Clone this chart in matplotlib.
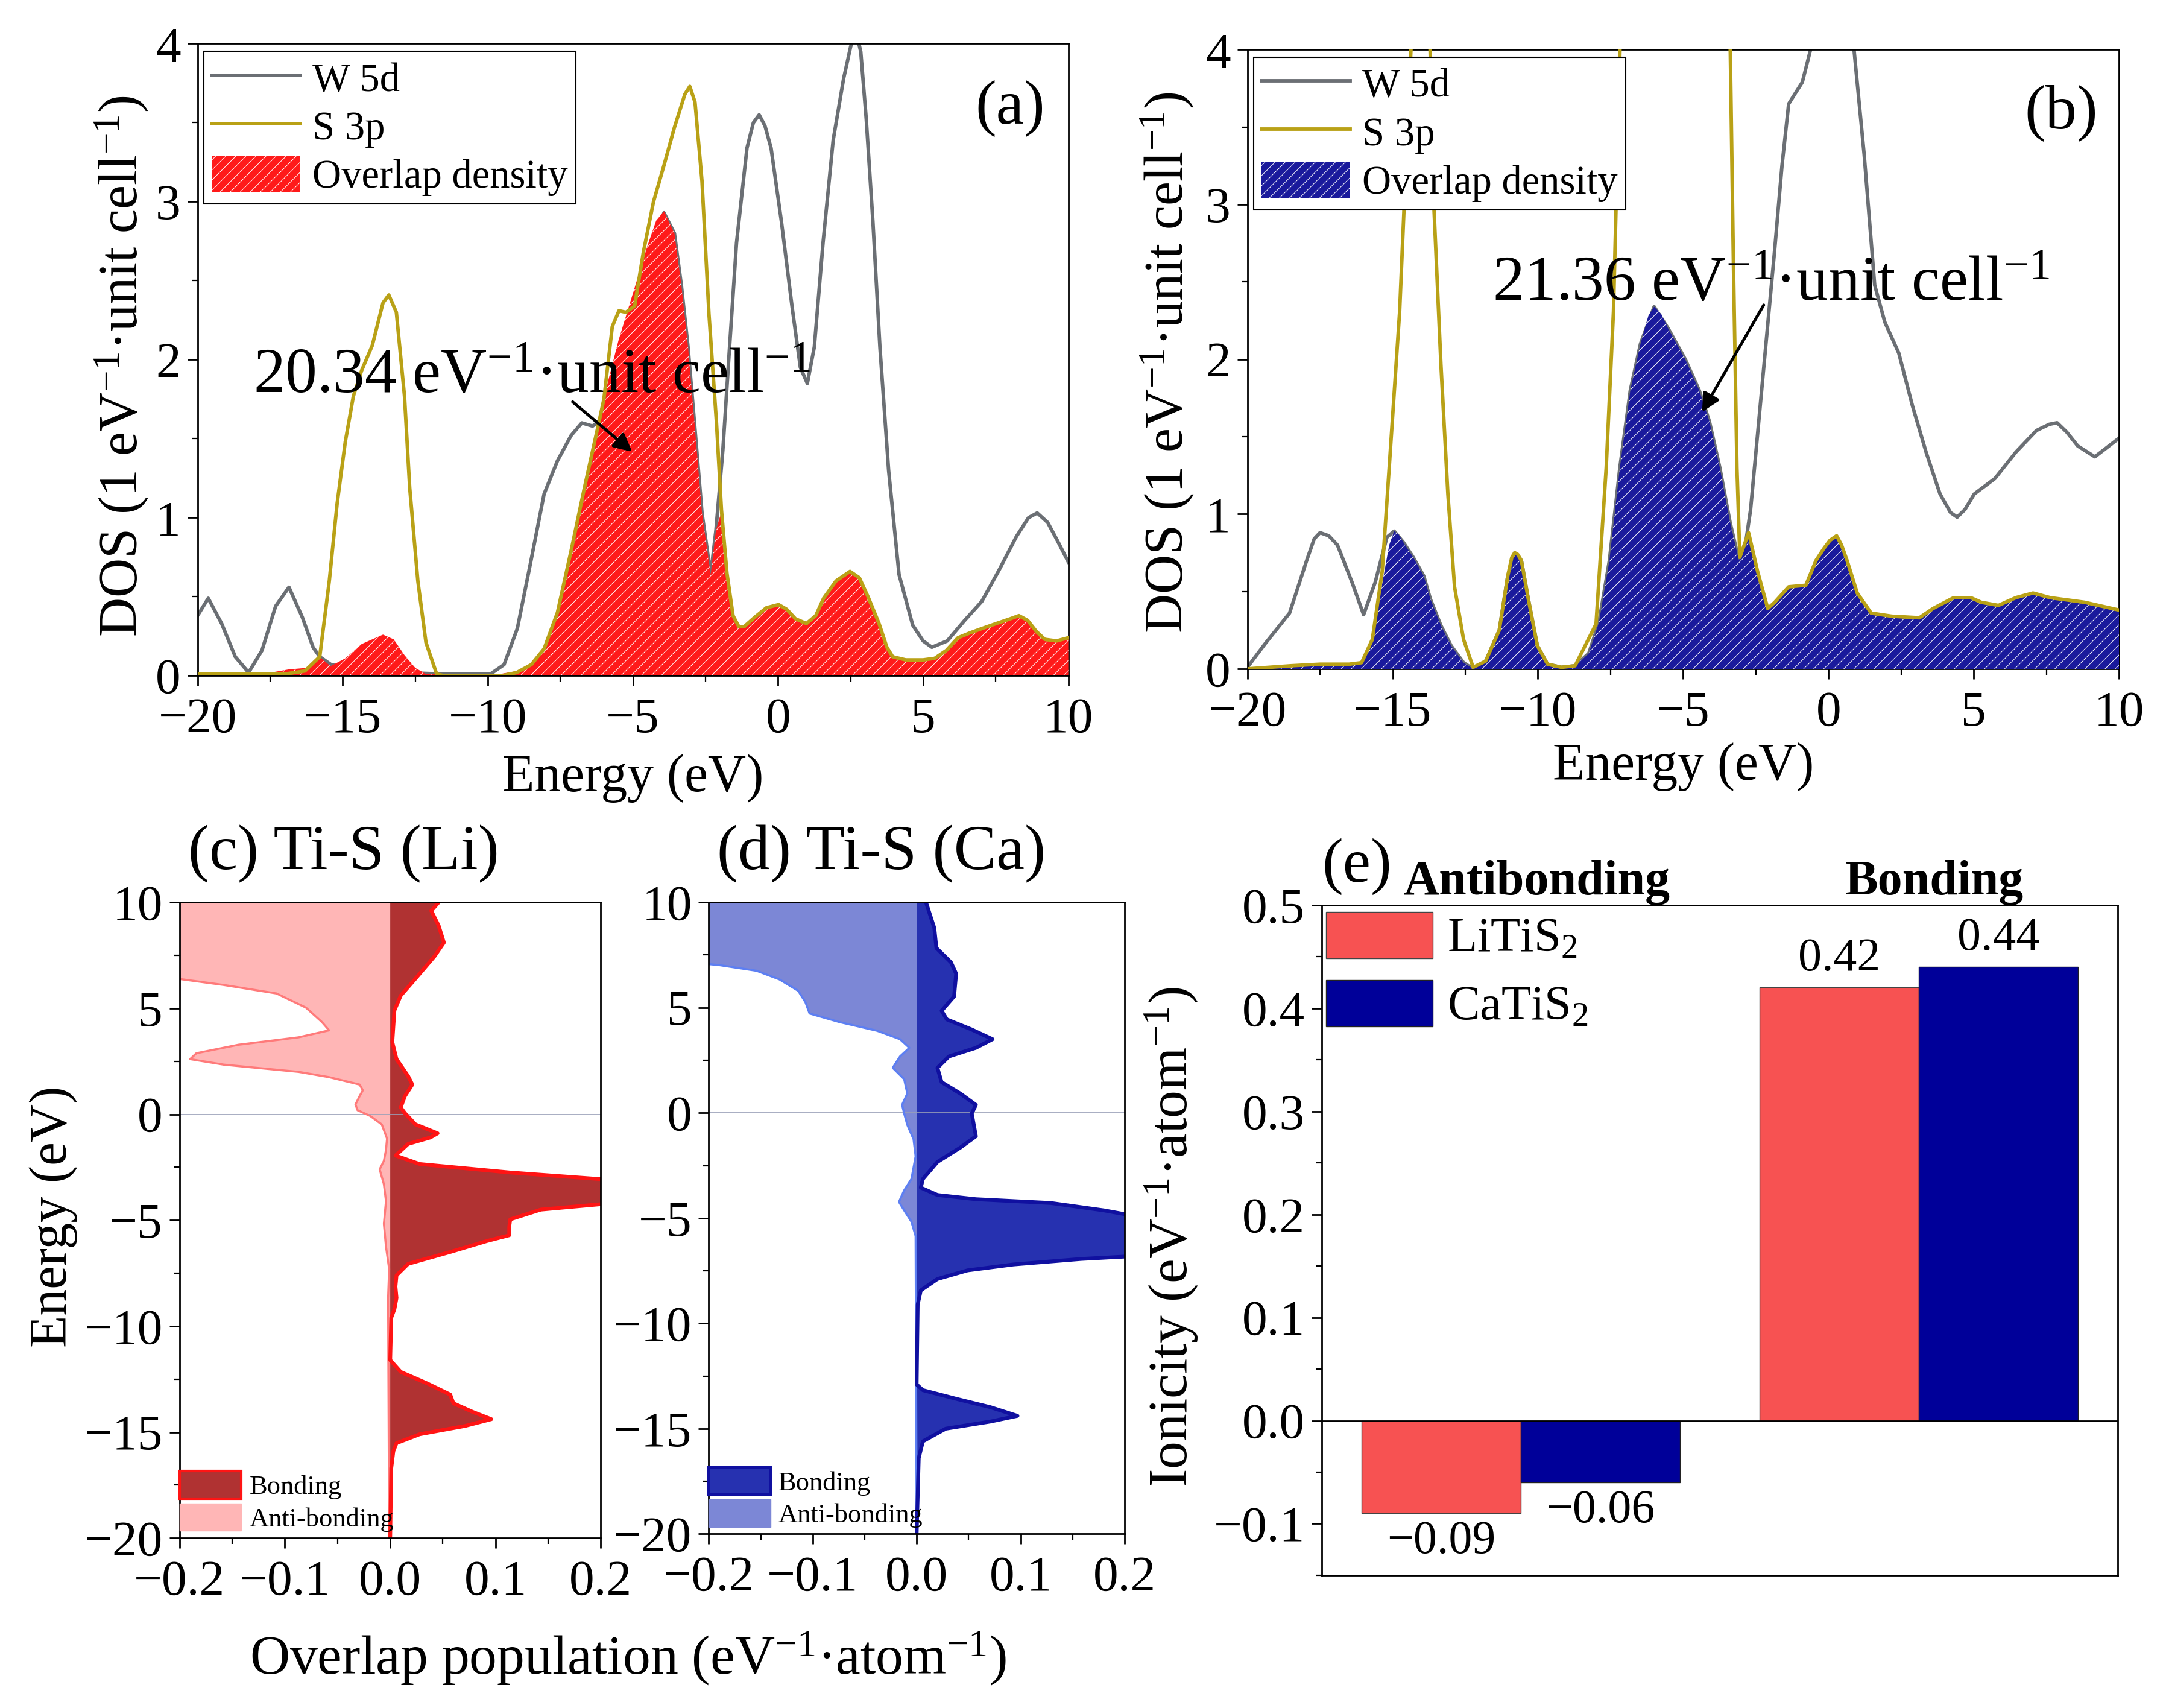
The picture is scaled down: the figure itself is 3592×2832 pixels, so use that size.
import matplotlib
matplotlib.use('Agg')
import matplotlib.pyplot as plt
from matplotlib.patches import Patch
from matplotlib.ticker import MultipleLocator
import numpy as np

plt.rcParams['font.family'] = ['Liberation Serif', 'DejaVu Serif']
plt.rcParams['mathtext.fontset'] = 'custom'
plt.rcParams['mathtext.rm'] = 'Liberation Serif'
plt.rcParams['mathtext.it'] = 'Liberation Serif:italic'
plt.rcParams['mathtext.bf'] = 'Liberation Serif:bold'
plt.rcParams['mathtext.default'] = 'regular'
plt.rcParams['hatch.linewidth'] = 0.7
plt.rcParams['axes.linewidth'] = 2.0

# ---- panel (a): (energy eV, DOS) pairs ----
a_w5d = np.array([
    (-20, 0.38), (-19.63, 0.49), (-19.17, 0.33), (-18.7, 0.12), (-18.24, 0.02),
    (-17.78, 0.16), (-17.31, 0.44), (-16.85, 0.56), (-16.39, 0.37), (-16.02, 0.18),
    (-15.79, 0.12), (-15.4, 0.07), (-14.5, 0.04), (-13, 0.02), (-11.5, 0.01),
    (-9.91, 0.01), (-9.44, 0.07), (-8.98, 0.30), (-8.52, 0.72), (-8.06, 1.15),
    (-7.6, 1.36), (-7.13, 1.52), (-6.76, 1.6), (-6.39, 1.58), (-6.1, 1.62),
    (-5.5, 1.9), (-5.0, 2.25), (-4.5, 2.62), (-3.93, 2.93), (-3.57, 2.8),
    (-3.33, 2.47), (-3.1, 2.08), (-2.86, 1.56), (-2.62, 1.03), (-2.32, 0.64),
    (-2.14, 0.92), (-1.9, 1.43), (-1.67, 2.08), (-1.43, 2.74), (-1.07, 3.34),
    (-0.85, 3.5), (-0.65, 3.55), (-0.45, 3.48), (-0.24, 3.34), (0.12, 2.87),
    (0.48, 2.34), (0.77, 1.95), (1.01, 1.85), (1.25, 2.08), (1.55, 2.74),
    (1.9, 3.39), (2.26, 3.78), (2.5, 3.98), (2.68, 4.08), (2.85, 3.95),
    (3.04, 3.52), (3.27, 2.87), (3.51, 2.08), (3.81, 1.30), (4.17, 0.64),
    (4.64, 0.32), (5.0, 0.22), (5.3, 0.18), (5.83, 0.22), (6.43, 0.35),
    (7.02, 0.47), (7.62, 0.67), (8.21, 0.88), (8.63, 1.0), (8.93, 1.03),
    (9.29, 0.97), (9.64, 0.85), (10, 0.72)])

a_s3p = np.array([
    (-20, 0.01), (-17, 0.01), (-16.3, 0.03), (-15.79, 0.12), (-15.46, 0.6),
    (-15.19, 1.09), (-14.91, 1.48), (-14.63, 1.77), (-14.35, 1.93), (-13.98, 2.09),
    (-13.61, 2.36), (-13.41, 2.41), (-13.15, 2.3), (-12.87, 1.77), (-12.69, 1.19),
    (-12.41, 0.6), (-12.13, 0.21), (-11.76, 0.01), (-11.5, 0.0), (-9.5, 0.0),
    (-9.0, 0.02), (-8.5, 0.07), (-8.06, 0.17), (-7.6, 0.4), (-7.13, 0.79),
    (-6.67, 1.19), (-6.2, 1.58), (-6.0, 1.75), (-5.71, 2.21), (-5.48, 2.31),
    (-5.24, 2.3), (-4.94, 2.34), (-4.64, 2.68), (-4.29, 3.0), (-3.93, 3.23),
    (-3.57, 3.47), (-3.21, 3.68), (-3.04, 3.73), (-2.86, 3.63), (-2.62, 3.13),
    (-2.38, 2.29), (-2.12, 1.6), (-1.95, 1.05), (-1.76, 0.65), (-1.55, 0.38),
    (-1.35, 0.31), (-1.17, 0.31), (-0.8, 0.37), (-0.4, 0.43), (0.02, 0.45),
    (0.3, 0.42), (0.6, 0.36), (0.98, 0.33), (1.3, 0.38), (1.57, 0.49),
    (2.0, 0.6), (2.48, 0.66), (2.8, 0.62), (3.1, 0.5), (3.48, 0.33),
    (3.75, 0.18), (3.95, 0.12), (4.4, 0.10), (5.0, 0.10), (5.4, 0.11),
    (5.8, 0.16), (6.2, 0.24), (6.6, 0.27), (7.05, 0.30), (7.52, 0.33),
    (8.0, 0.36), (8.3, 0.38), (8.6, 0.35), (8.9, 0.28), (9.19, 0.23),
    (9.6, 0.22), (10, 0.24)])

a_overlap = np.array([
    (-20, 0.01), (-17.78, 0.01), (-16.85, 0.04), (-16.2, 0.05), (-15.79, 0.12),
    (-15.42, 0.06), (-14.91, 0.11), (-14.35, 0.2), (-13.61, 0.26), (-13.24, 0.23),
    (-12.87, 0.13), (-12.5, 0.05), (-12.13, 0.01), (-9.91, 0.0), (-8.98, 0.03),
    (-8.52, 0.07), (-8.06, 0.17), (-7.6, 0.4), (-7.13, 0.79), (-6.67, 1.19),
    (-6.2, 1.58), (-5.93, 1.81), (-5.5, 2.12), (-5.0, 2.42), (-4.5, 2.72),
    (-4.2, 2.88), (-3.93, 2.94), (-3.57, 2.8), (-3.33, 2.47), (-3.1, 2.08),
    (-2.86, 1.56), (-2.62, 1.03), (-2.32, 0.64), (-2.14, 0.92), (-1.98, 1.02),
    (-1.76, 0.65), (-1.55, 0.38), (-1.35, 0.31), (-1.17, 0.31), (-0.8, 0.37),
    (-0.4, 0.43), (0.02, 0.45), (0.3, 0.42), (0.6, 0.36), (0.98, 0.33),
    (1.3, 0.38), (1.57, 0.49), (2.0, 0.6), (2.48, 0.66), (2.8, 0.62),
    (3.1, 0.5), (3.48, 0.33), (3.75, 0.18), (3.95, 0.12), (4.4, 0.10),
    (5.0, 0.10), (5.4, 0.11), (5.8, 0.16), (6.2, 0.24), (6.6, 0.27),
    (7.05, 0.30), (7.52, 0.33), (8.0, 0.36), (8.3, 0.38), (8.6, 0.35),
    (8.9, 0.28), (9.19, 0.23), (9.6, 0.22), (10, 0.24)])

# ---- panel (b) ----
b_w5d = np.array([
    (-20, 0.01), (-19.4, 0.16), (-18.55, 0.36), (-17.96, 0.70), (-17.7, 0.84),
    (-17.5, 0.88), (-17.2, 0.86), (-16.9, 0.80), (-16.4, 0.56), (-16.0, 0.35),
    (-15.6, 0.56), (-15.2, 0.85), (-14.95, 0.89), (-14.64, 0.82), (-14.29, 0.72),
    (-13.93, 0.6), (-13.7, 0.45), (-13.34, 0.28), (-12.99, 0.15), (-12.56, 0.04),
    (-12.23, 0.0), (-11.8, 0.05), (-11.33, 0.25), (-11.04, 0.6), (-10.8, 0.75),
    (-10.57, 0.7), (-10.33, 0.45), (-10.02, 0.15), (-9.67, 0.03), (-9.19, 0.01),
    (-8.72, 0.02), (-8.25, 0.1), (-7.9, 0.3), (-7.54, 0.7), (-7.18, 1.3),
    (-6.82, 1.8), (-6.47, 2.1), (-6.0, 2.34), (-5.52, 2.2), (-4.93, 2.0),
    (-4.45, 1.8), (-4.1, 1.6), (-3.74, 1.3), (-3.39, 0.95), (-3.08, 0.7),
    (-2.9, 0.75), (-2.68, 1.03), (-2.3, 1.8), (-1.85, 2.71), (-1.6, 3.25),
    (-1.37, 3.65), (-0.9, 3.79), (-0.55, 4.05), (0.0, 4.3), (0.6, 4.2),
    (0.88, 4.0), (1.23, 3.32), (1.59, 2.48), (1.94, 2.24), (2.42, 2.04),
    (2.89, 1.70), (3.36, 1.40), (3.84, 1.13), (4.2, 1.01), (4.43, 0.98),
    (4.7, 1.03), (5.02, 1.13), (5.73, 1.23), (6.45, 1.40), (7.16, 1.54),
    (7.6, 1.58), (7.87, 1.59), (8.2, 1.53), (8.58, 1.44), (9.17, 1.37),
    (10, 1.49)])

b_s3p = np.array([
    (-20, 0.0), (-18.5, 0.02), (-17.5, 0.03), (-16.5, 0.03), (-16.07, 0.04),
    (-15.7, 0.19), (-15.36, 0.63), (-15.12, 1.3), (-14.76, 2.31), (-14.53, 3.32),
    (-14.3, 4.3), (-14.0, 4.8), (-13.75, 4.3), (-13.58, 2.98), (-13.34, 1.97),
    (-13.1, 1.13), (-12.87, 0.53), (-12.56, 0.19), (-12.23, 0.01), (-11.8, 0.05),
    (-11.33, 0.25), (-11.04, 0.6), (-10.9, 0.72), (-10.8, 0.75), (-10.7, 0.74),
    (-10.57, 0.7), (-10.33, 0.45), (-10.02, 0.15), (-9.67, 0.03), (-9.19, 0.01),
    (-8.72, 0.02), (-8.0, 0.29), (-7.65, 1.3), (-7.4, 2.31), (-7.15, 4.2),
    (-6.8, 5.5), (-5.0, 6.0), (-3.6, 5.0), (-3.38, 4.0), (-3.27, 2.6),
    (-3.15, 1.3), (-3.05, 0.72), (-2.9, 0.8), (-2.75, 0.88), (-2.44, 0.63),
    (-2.09, 0.39), (-1.85, 0.43), (-1.37, 0.53), (-0.78, 0.54), (-0.43, 0.70),
    (-0.15, 0.78), (0.05, 0.83), (0.28, 0.86), (0.45, 0.8), (0.64, 0.70),
    (0.99, 0.49), (1.47, 0.36), (2.18, 0.34), (3.13, 0.33), (3.6, 0.39),
    (4.31, 0.46), (4.9, 0.46), (5.26, 0.43), (5.85, 0.41), (6.45, 0.46),
    (7.04, 0.49), (7.63, 0.46), (8.82, 0.43), (10, 0.38)])

b_overlap = np.array([
    (-20, 0.0), (-18.5, 0.01), (-17.7, 0.03), (-16.5, 0.03), (-16.07, 0.04),
    (-15.7, 0.2), (-15.36, 0.55), (-15.12, 0.8), (-14.95, 0.89), (-14.8, 0.87),
    (-14.64, 0.82), (-14.29, 0.72), (-13.93, 0.6), (-13.7, 0.45), (-13.34, 0.28),
    (-12.99, 0.15), (-12.56, 0.04), (-12.23, 0.0), (-11.8, 0.05), (-11.33, 0.25),
    (-11.04, 0.6), (-10.9, 0.72), (-10.8, 0.75), (-10.7, 0.74), (-10.57, 0.7),
    (-10.33, 0.45), (-10.02, 0.15), (-9.67, 0.03), (-9.19, 0.01), (-8.72, 0.02),
    (-8.25, 0.1), (-7.9, 0.3), (-7.54, 0.7), (-7.18, 1.3), (-6.82, 1.8),
    (-6.47, 2.1), (-6.2, 2.28), (-6.0, 2.34), (-5.75, 2.29), (-5.52, 2.2),
    (-4.93, 2.0), (-4.45, 1.8), (-4.1, 1.6), (-3.74, 1.3), (-3.39, 0.95),
    (-3.08, 0.7), (-2.9, 0.8), (-2.75, 0.88), (-2.44, 0.63), (-2.09, 0.39),
    (-1.85, 0.43), (-1.37, 0.53), (-0.78, 0.54), (-0.43, 0.70), (-0.15, 0.78),
    (0.05, 0.83), (0.28, 0.86), (0.45, 0.8), (0.64, 0.70), (0.99, 0.49),
    (1.47, 0.36), (2.18, 0.34), (3.13, 0.33), (3.6, 0.39), (4.31, 0.46),
    (4.9, 0.46), (5.26, 0.43), (5.85, 0.41), (6.45, 0.46), (7.04, 0.49),
    (7.63, 0.46), (8.82, 0.43), (10, 0.38)])

# ---- panels (c), (d): (energy eV, overlap population) ----
c_bonding = np.array([
    (10, 0.046), (9.6, 0.039), (8.9, 0.046), (8.1, 0.051), (7.45, 0.042),
    (6.4, 0.024), (5.6, 0.010), (4.9, 0.004), (3.4, 0.002), (2.6, 0.006),
    (1.8, 0.017), (1.4, 0.021), (0.86, 0.014), (0.32, 0.010), (0.05, 0.014),
    (-0.48, 0.024), (-0.9, 0.045), (-1.1, 0.038), (-1.4, 0.017), (-1.95, 0.005),
    (-2.35, 0.028), (-2.75, 0.114), (-3.1, 0.21), (-3.6, 0.26), (-4.2, 0.21),
    (-4.5, 0.143), (-4.96, 0.114), (-5.3, 0.113), (-5.71, 0.113), (-5.98, 0.092),
    (-6.5, 0.057), (-7.06, 0.017), (-7.6, 0.006), (-8.13, 0.005), (-8.67, 0.006),
    (-9.2, 0.004), (-9.6, 0.001), (-11.6, 0.0), (-12.16, 0.01), (-12.7, 0.035),
    (-13.23, 0.057), (-13.64, 0.06), (-14.04, 0.078), (-14.39, 0.096),
    (-14.71, 0.071), (-15.1, 0.028), (-15.52, 0.006), (-15.9, 0.003),
    (-16.7, 0.001), (-20, 0.0)])

c_antibonding = np.array([
    (10, -0.25), (6.7, -0.25), (6.45, -0.21), (6.1, -0.158), (5.7, -0.108),
    (5.03, -0.08), (4.36, -0.065), (3.96, -0.058), (3.63, -0.087), (3.28, -0.144),
    (2.88, -0.184), (2.6, -0.19), (2.34, -0.158), (2.0, -0.087), (1.75, -0.058),
    (1.4, -0.029), (1.13, -0.026), (0.86, -0.029), (0.46, -0.033), (0.19, -0.031),
    (-0.08, -0.019), (-0.48, -0.008), (-1.15, -0.003), (-1.69, -0.004),
    (-2.2, -0.006), (-2.6, -0.01), (-3.3, -0.006), (-4.1, -0.004), (-5.17, -0.006),
    (-6.25, -0.004), (-7.3, -0.001), (-8.67, -0.002), (-20, -0.001)])

d_bonding = np.array([
    (10, 0.009), (8.78, 0.017), (7.83, 0.019), (7.15, 0.033), (6.61, 0.038),
    (5.53, 0.036), (4.85, 0.024), (4.44, 0.029), (3.96, 0.053), (3.5, 0.073),
    (3.09, 0.057), (2.68, 0.031), (2.14, 0.02), (1.46, 0.024), (0.92, 0.042),
    (0.38, 0.057), (-0.03, 0.053), (-0.57, 0.055), (-1.11, 0.057), (-1.65, 0.042),
    (-2.33, 0.02), (-3.14, 0.006), (-3.55, 0.004), (-3.9, 0.02), (-4.1, 0.057),
    (-4.28, 0.129), (-4.63, 0.18), (-4.9, 0.21), (-5.8, 0.25), (-6.8, 0.21),
    (-6.94, 0.158), (-7.2, 0.093), (-7.48, 0.049), (-7.89, 0.02), (-8.43, 0.004),
    (-9.1, 0.001), (-12.9, 0.0), (-13.17, 0.006), (-13.58, 0.038), (-13.98, 0.071),
    (-14.39, 0.097), (-14.66, 0.071), (-15.0, 0.028), (-15.6, 0.006),
    (-16.4, 0.002), (-20, 0.0)])

d_antibonding = np.array([
    (10, -0.25), (7.3, -0.25), (7.02, -0.19), (6.75, -0.154), (6.34, -0.132),
    (5.8, -0.114), (5.26, -0.107), (4.72, -0.103), (4.31, -0.074), (3.9, -0.038),
    (3.5, -0.016), (3.09, -0.007), (2.68, -0.016), (2.14, -0.023), (1.6, -0.012),
    (0.92, -0.009), (0.38, -0.014), (-0.03, -0.012), (-0.57, -0.009),
    (-1.25, -0.003), (-2.06, -0.001), (-3.14, -0.005), (-3.68, -0.012),
    (-4.23, -0.017), (-4.63, -0.012), (-5.17, -0.005), (-5.85, -0.001), (-20, 0.0)])

# ---- panel (e) ----
bond_types = ['Antibonding', 'Bonding']
litis2_ionicity = [-0.09, 0.42]
catis2_ionicity = [-0.06, 0.44]

GREY = '#6b6f74'
GOLD = '#b9a116'
TICK = 60
LABEL = 63


def style(ax):
    ax.tick_params(which='major', direction='out', length=12, width=2,
                   labelsize=TICK, pad=8, top=False, right=False)
    ax.tick_params(which='minor', direction='out', length=7, width=1.6,
                   top=False, right=False)
    ax.tick_params(axis='x', which='major', pad=14)


def dos_panel(ax, w5d, s3p, overlap, fill, tag, note, note_xy, arrow_from, arrow_to):
    ax.plot(w5d[:, 0], w5d[:, 1], color=GREY, lw=4.2, label='W 5d', zorder=2)
    ax.fill_between(overlap[:, 0], 0, overlap[:, 1], facecolor=fill,
                    edgecolor='white', hatch='//', lw=0, zorder=3,
                    label='Overlap density')
    ax.plot(s3p[:, 0], s3p[:, 1], color=GOLD, lw=4.2, label='S 3p', zorder=4)
    ax.set_xlim(-20, 10)
    ax.set_ylim(0, 4)
    ax.xaxis.set_major_locator(MultipleLocator(5))
    ax.xaxis.set_minor_locator(MultipleLocator(2.5))
    ax.yaxis.set_major_locator(MultipleLocator(1))
    ax.yaxis.set_minor_locator(MultipleLocator(0.5))
    style(ax)
    ax.set_xlabel('Energy (eV)', fontsize=LABEL)
    ax.set_ylabel('DOS (1 eV$^{-1}$·unit cell$^{-1}$)', fontsize=65)
    ax.xaxis.label.set_va('center')
    ax.yaxis.label.set_va('center')
    h, l = ax.get_legend_handles_labels()
    order = [l.index('W 5d'), l.index('S 3p'), l.index('Overlap density')]
    leg = ax.legend([h[i] for i in order], [l[i] for i in order],
                    loc='upper left', bbox_to_anchor=(0.007, 0.988),
                    borderaxespad=0, fontsize=48, handlelength=2.2,
                    handleheight=1.0, labelspacing=0.2, handletextpad=0.3,
                    borderpad=0.2, fancybox=False, framealpha=1)
    leg.get_frame().set_edgecolor('black')
    leg.get_frame().set_linewidth(1.5)
    ax.text(8.0, 3.59, tag, fontsize=75, ha='center', va='center')
    ax.text(note_xy[0], note_xy[1], note, fontsize=76, ha='left', va='baseline',
            zorder=6)
    ax.annotate('', xy=arrow_to, xytext=arrow_from, zorder=6,
                arrowprops=dict(arrowstyle='-|>', lw=3.5, color='black',
                                mutation_scale=45))


def cohp_panel(ax, bonding, anti, bcol, bedge, acol, aedge, title):
    ax.fill_betweenx(anti[:, 0], 0, anti[:, 1], facecolor=acol, edgecolor='none')
    ax.plot(anti[:, 1], anti[:, 0], color=aedge, lw=2.5)
    ax.fill_betweenx(bonding[:, 0], 0, bonding[:, 1], facecolor=bcol, edgecolor='none')
    ax.plot(bonding[:, 1], bonding[:, 0], color=bedge, lw=4.5)
    ax.axhline(0, color='#9aa0b8', lw=1.2, zorder=1)
    ax.set_xlim(-0.2, 0.2)
    ax.set_ylim(-20, 10)
    ax.xaxis.set_major_locator(MultipleLocator(0.1))
    ax.xaxis.set_minor_locator(MultipleLocator(0.05))
    ax.yaxis.set_major_locator(MultipleLocator(5))
    ax.yaxis.set_minor_locator(MultipleLocator(2.5))
    style(ax)
    ax.text(0.02, 1.03, title, transform=ax.transAxes, fontsize=76,
            ha='left', va='bottom')
    handles = [Patch(facecolor=bcol, edgecolor=bedge, lw=3),
               Patch(facecolor=acol, edgecolor=acol, lw=1)]
    ax.legend(handles, ['Bonding', 'Anti-bonding'], loc='lower left',
              bbox_to_anchor=(0.0, 0.01), borderaxespad=0, frameon=False,
              fontsize=32, handlelength=2.3, handleheight=1.2,
              labelspacing=0.15, handletextpad=0.3, borderpad=0)


fig = plt.figure(figsize=(35.92, 28.32), dpi=100)

ax_a = fig.add_axes([0.0912, 0.6044, 0.402, 0.370])
dos_panel(ax_a, a_w5d, a_s3p, a_overlap, '#ff1a1a', '(a)',
          '20.34 eV$^{-1}$·unit cell$^{-1}$', (-18.07, 1.79),
          (-7.12, 1.74), (-4.98, 1.41))
ax_a.xaxis.set_label_coords(0.5, -0.162)
ax_a.yaxis.set_label_coords(-0.087, 0.49)

ax_b = fig.add_axes([0.5759, 0.6084, 0.4024, 0.3625])
dos_panel(ax_b, b_w5d, b_s3p, b_overlap, '#1a1a9c', '(b)',
          '21.36 eV$^{-1}$·unit cell$^{-1}$', (-11.56, 2.38),
          (-2.2, 2.36), (-4.38, 1.65))
ax_b.xaxis.set_label_coords(0.5, -0.158)
ax_b.yaxis.set_label_coords(-0.092, 0.495)

ax_c = fig.add_axes([0.0829, 0.0995, 0.1945, 0.3722])
cohp_panel(ax_c, c_bonding, c_antibonding, '#b03232', '#ff1414',
           '#ffb6b6', '#ff7a7a', '(c) Ti-S (Li)')
ax_c.set_ylabel('Energy (eV)', fontsize=LABEL)
ax_c.yaxis.label.set_va('center')
ax_c.yaxis.set_label_coords(-0.30, 0.506)

ax_d = fig.add_axes([0.3272, 0.1019, 0.192, 0.3698])
cohp_panel(ax_d, d_bonding, d_antibonding, '#2631b0', '#1010a0',
           '#7c87d6', '#5d7ff2', '(d) Ti-S (Ca)')

fig.text(0.290, 0.0291, 'Overlap population (eV$^{-1}$·atom$^{-1}$)',
         fontsize=66, ha='center', va='center')

# ---- (e) bars ----
ax_e = fig.add_axes([0.6103, 0.0777, 0.3673, 0.3924])
xpos = np.arange(1, len(bond_types) + 1)
bars_li = ax_e.bar(xpos - 0.2, litis2_ionicity, 0.4, color='#f75252',
                   edgecolor='#444444', lw=1, label='LiTiS$_2$')
bars_ca = ax_e.bar(xpos + 0.2, catis2_ionicity, 0.4, color='#000099',
                   edgecolor='#222222', lw=1, label='CaTiS$_2$')
for bars, vals in ((bars_li, litis2_ionicity), (bars_ca, catis2_ionicity)):
    ax_e.bar_label(bars, labels=[f'{v:.2f}'.replace('-', '\u2212') for v in vals],
                   padding=8, fontsize=56)
ax_e.axhline(0, color='black', lw=2)
ax_e.set_xlim(0.5, 2.5)
ax_e.set_ylim(-0.15, 0.5)
ax_e.set_xticks([])
ax_e.yaxis.set_major_locator(MultipleLocator(0.1))
ax_e.yaxis.set_minor_locator(MultipleLocator(0.05))
style(ax_e)
for xc, name in zip(xpos + 0.04, bond_types):
    ax_e.text(xc, 1.0, name, transform=ax_e.get_xaxis_transform(),
              fontsize=59, fontweight='bold', ha='center', va='bottom')
ax_e.text(0.0, 1.015, '(e)', transform=ax_e.transAxes, fontsize=75,
          ha='left', va='bottom')
ax_e.set_ylabel('Ionicity (eV$^{-1}$·atom$^{-1}$)', fontsize=66)
ax_e.yaxis.label.set_va('center')
ax_e.yaxis.set_label_coords(-0.189, 0.505)
ax_e.legend(loc='upper left', bbox_to_anchor=(0.005, 0.99), borderaxespad=0,
            frameon=False, fontsize=58, handlelength=2.2, handleheight=1.1,
            labelspacing=0.37, handletextpad=0.3, borderpad=0)

fig.savefig('out.png', dpi=100)
